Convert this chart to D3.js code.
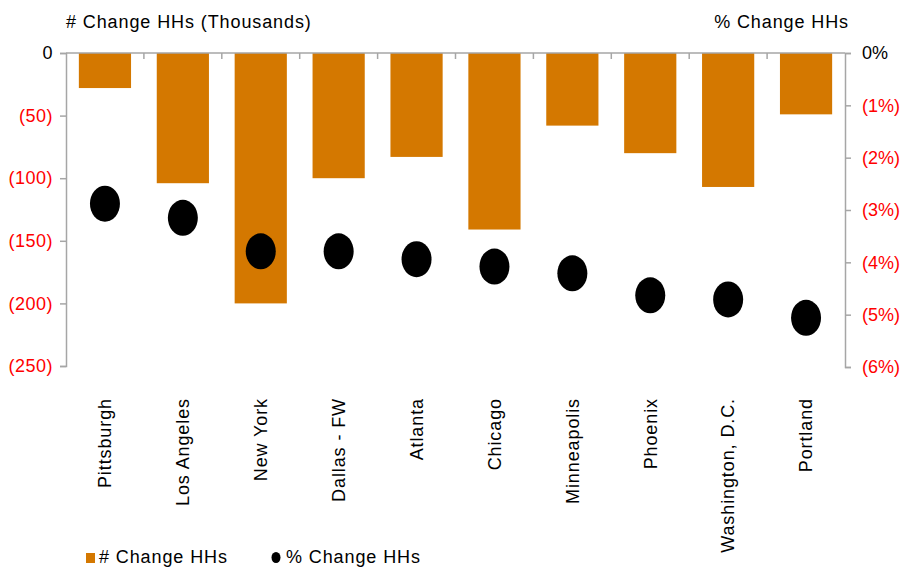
<!DOCTYPE html>
<html>
<head>
<meta charset="utf-8">
<script src="https://cdn.jsdelivr.net/npm/d3@7"></script>
<style>
  body { margin: 0; background: #fff; }
  text { font-family: "Liberation Sans", Arial, sans-serif; letter-spacing: 0.9px; }
</style>
</head>
<body>
<div id="chart"></div>
<script>
// data
const cities = ["Pittsburgh", "Los Angeles", "New York", "Dallas - FW", "Atlanta",
  "Chicago", "Minneapolis", "Phoenix", "Washington, D.C.", "Portland"];
const changeHHs = [-28, -104, -200, -100, -83, -141, -58, -80, -107, -49];
const pctChangeHHs = [-2.88, -3.15, -3.79, -3.79, -3.94, -4.08, -4.21, -4.63, -4.71, -5.06];
const leftTicks = [0, -50, -100, -150, -200, -250];
const rightTicks = [0, -1, -2, -3, -4, -5, -6];

const width = 901, height = 568;
const margin = { top: 53, right: 56, bottom: 202, left: 66 };
const barColor = "#d47800";
const axisColor = "#a6a6a6";
const fontSize = 18;

const svg = d3.select("#chart").append("svg")
  .attr("width", width)
  .attr("height", height);

// scales
const x = d3.scaleBand()
  .domain(cities)
  .range([margin.left, width - margin.right])
  .paddingInner(0.33)
  .paddingOuter(0.165);

const xBand = d3.scaleBand()
  .domain(cities)
  .range([margin.left, width - margin.right]);

const y = d3.scaleLinear()
  .domain([-250, 0])
  .range([height - margin.bottom, margin.top]);

const y2 = d3.scaleLinear()
  .domain([-6, 0])
  .range([height - margin.bottom + 1, margin.top]);

const fmtLeft = (d) => (d < 0 ? "(" + Math.abs(d) + ")" : d);
const fmtRight = (d) => (d < 0 ? "(" + Math.abs(d) + "%)" : d + "%");

// bars
svg.append("g")
  .selectAll("rect")
  .data(cities)
  .join("rect")
  .attr("x", (d) => x(d))
  .attr("y", y(0))
  .attr("width", x.bandwidth())
  .attr("height", (d, i) => y(changeHHs[i]) - y(0))
  .attr("fill", barColor);

// top (category) axis line with ticks between bands
const boundaries = cities.slice(1).map((d) => xBand(d));
svg.append("line")
  .attr("x1", margin.left).attr("x2", width - margin.right)
  .attr("y1", y(0)).attr("y2", y(0))
  .attr("stroke", axisColor).attr("stroke-width", 1.5);
svg.append("g")
  .selectAll("line")
  .data(boundaries)
  .join("line")
  .attr("x1", (d) => d).attr("x2", (d) => d)
  .attr("y1", y(0)).attr("y2", y(0) + 6)
  .attr("stroke", axisColor).attr("stroke-width", 1.5);

// left axis
const leftAxis = svg.append("g")
  .attr("transform", `translate(${margin.left},0)`)
  .call(d3.axisLeft(y).tickValues(leftTicks).tickFormat(fmtLeft).tickSizeOuter(0).tickSize(6).tickPadding(7));
leftAxis.select(".domain").attr("stroke", axisColor).attr("stroke-width", 1.5);
leftAxis.selectAll(".tick line").attr("stroke", axisColor).attr("stroke-width", 1.5);
leftAxis.selectAll(".tick text")
  .attr("font-size", fontSize)
  .attr("font-family", "Liberation Sans, Arial, sans-serif")
  .style("letter-spacing", "0.5px")
  .attr("fill", (d) => (d < 0 ? "#ff0000" : "#000"));

// right axis
const rightAxis = svg.append("g")
  .attr("transform", `translate(${width - margin.right},0)`)
  .call(d3.axisRight(y2).tickValues(rightTicks).tickFormat(fmtRight).tickSizeOuter(0).tickSize(6).tickPadding(11));
rightAxis.select(".domain").attr("stroke", axisColor).attr("stroke-width", 1.5);
rightAxis.selectAll(".tick line").attr("stroke", axisColor).attr("stroke-width", 1.5);
rightAxis.selectAll(".tick text")
  .attr("font-size", fontSize)
  .attr("font-family", "Liberation Sans, Arial, sans-serif")
  .style("letter-spacing", "0px")
  .attr("fill", (d) => (d < 0 ? "#ff0000" : "#000"));

// dots
svg.append("g")
  .selectAll("ellipse")
  .data(cities)
  .join("ellipse")
  .attr("cx", (d) => xBand(d) + xBand.bandwidth() / 2)
  .attr("cy", (d, i) => y2(pctChangeHHs[i]))
  .attr("rx", 15)
  .attr("ry", 18)
  .attr("fill", "#000");

// category labels
svg.append("g")
  .selectAll("text")
  .data(cities)
  .join("text")
  .attr("transform", (d) =>
    `translate(${xBand(d) + xBand.bandwidth() / 2},398) rotate(-90)`)
  .attr("text-anchor", "end")
  .attr("dy", "0.35em")
  .attr("font-size", fontSize)
  .attr("fill", "#000")
  .text((d) => d);

// axis titles
svg.append("text")
  .attr("x", margin.left)
  .attr("y", 28)
  .attr("font-size", fontSize)
  .text("# Change HHs (Thousands)");

svg.append("text")
  .attr("x", 849)
  .attr("y", 28)
  .attr("text-anchor", "end")
  .attr("font-size", fontSize)
  .text("% Change HHs");

// legend
const legend = svg.append("g");
legend.append("rect")
  .attr("x", 86).attr("y", 553)
  .attr("width", 9).attr("height", 10)
  .attr("fill", barColor);
legend.append("text")
  .attr("x", 99).attr("y", 563)
  .attr("font-size", fontSize)
  .text("# Change HHs");
legend.append("ellipse")
  .attr("cx", 276).attr("cy", 557.5)
  .attr("rx", 4.5).attr("ry", 5.5)
  .attr("fill", "#000");
legend.append("text")
  .attr("x", 286).attr("y", 563)
  .attr("font-size", fontSize)
  .text("% Change HHs");
</script>
</body>
</html>
